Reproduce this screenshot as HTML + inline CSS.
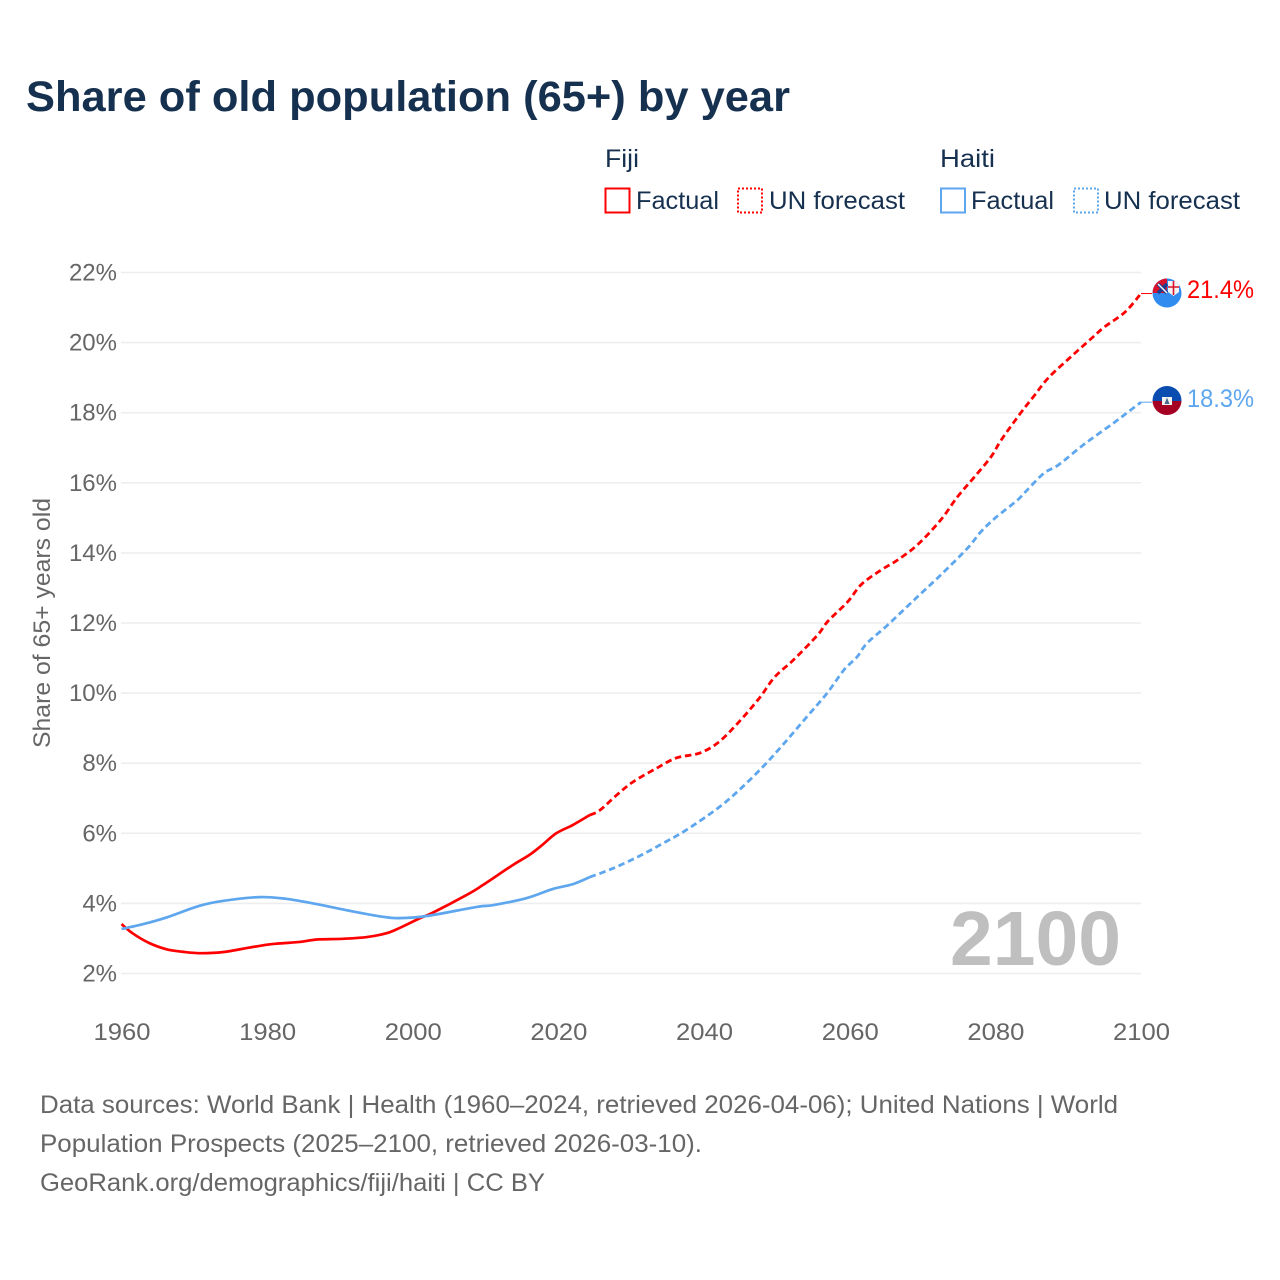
<!DOCTYPE html>
<html lang="en">
<head>
<meta charset="utf-8">
<title>Share of old population (65+) by year</title>
<style>
  html, body { margin: 0; padding: 0; background: #fff; }
  svg { display: block; font-family: "Liberation Sans", sans-serif; }
</style>
</head>
<body>
<svg id="chart" xmlns="http://www.w3.org/2000/svg" width="1280" height="1280" viewBox="0 0 1280 1280">
  <rect width="1280" height="1280" fill="#ffffff"/>
  <text x="26" y="111" font-size="43" font-weight="700" fill="#16304f" textLength="764" lengthAdjust="spacingAndGlyphs">Share of old population (65+) by year</text>

  <g font-size="25" fill="#16304f">
    <text x="605" y="167" textLength="34" lengthAdjust="spacingAndGlyphs">Fiji</text>
    <rect x="605.5" y="188.5" width="24" height="24" fill="none" stroke="#ff0000" stroke-width="2"/>
    <text x="636" y="209" textLength="83" lengthAdjust="spacingAndGlyphs">Factual</text>
    <rect x="738" y="188.5" width="24" height="24" fill="none" stroke="#ff0000" stroke-width="2" stroke-dasharray="2 2"/>
    <text x="769" y="209" textLength="136" lengthAdjust="spacingAndGlyphs">UN forecast</text>
    <text x="940" y="167" textLength="55" lengthAdjust="spacingAndGlyphs">Haiti</text>
    <rect x="941" y="188.5" width="24" height="24" fill="none" stroke="#5ea6ee" stroke-width="2"/>
    <text x="971" y="209" textLength="83" lengthAdjust="spacingAndGlyphs">Factual</text>
    <rect x="1074" y="188.5" width="24" height="24" fill="none" stroke="#5ea6ee" stroke-width="2" stroke-dasharray="2 2"/>
    <text x="1104" y="209" textLength="136" lengthAdjust="spacingAndGlyphs">UN forecast</text>
  </g>

  <g id="grid"></g>
  <g id="yticks" font-size="24" fill="#666666" text-anchor="end"></g>
  <g id="xticks" font-size="24" fill="#666666"></g>
  <text transform="translate(50 623) rotate(-90)" font-size="24" fill="#666666" text-anchor="middle" textLength="250" lengthAdjust="spacingAndGlyphs">Share of 65+ years old</text>

  <text x="950" y="965" font-size="77" font-weight="700" fill="#bfbfbf" textLength="171" lengthAdjust="spacingAndGlyphs">2100</text>

  <g id="series"></g>

  <defs>
    <clipPath id="clip-fiji"><circle cx="1167" cy="293" r="14.5"/></clipPath>
    <clipPath id="clip-haiti"><circle cx="1167" cy="400.5" r="14.5"/></clipPath>
  </defs>
  <g clip-path="url(#clip-fiji)">
    <rect x="1152" y="278" width="30" height="30" fill="#318cf0"/>
    <rect x="1152" y="278" width="15" height="15" fill="#d8142c"/>
    <path d="M1158 284L1167 293M1167 284L1158 293" stroke="#1a3f90" stroke-width="3.5"/>
    <path d="M1158 284L1167 293" stroke="#ffffff" stroke-width="1.4"/>
    <path d="M1168 281H1179V292L1173.5 296L1168 292Z" fill="#f4f4f4"/>
    <path d="M1173.5 281V295M1168 287H1179" stroke="#d8142c" stroke-width="1.6"/>
  </g>
  <g clip-path="url(#clip-haiti)">
    <rect x="1152" y="386" width="30" height="15" fill="#0a4cb0"/>
    <rect x="1152" y="401" width="30" height="15" fill="#a50024"/>
    <rect x="1162" y="397" width="10" height="8" fill="#f2f2f2"/>
    <path d="M1167 397.5L1169.5 404H1164.5Z" fill="#486a8a"/>
  </g>
  <text x="1187" y="298" font-size="25" fill="#ff0000" textLength="67" lengthAdjust="spacingAndGlyphs">21.4%</text>
  <text x="1187" y="407" font-size="25" fill="#5ea6ee" textLength="67" lengthAdjust="spacingAndGlyphs">18.3%</text>

  <g font-size="25" fill="#666666">
    <text x="40" y="1113" textLength="1078" lengthAdjust="spacingAndGlyphs">Data sources: World Bank | Health (1960–2024, retrieved 2026-04-06); United Nations | World</text>
    <text x="40" y="1152" textLength="662" lengthAdjust="spacingAndGlyphs">Population Prospects (2025–2100, retrieved 2026-03-10).</text>
    <text x="40" y="1191" textLength="505" lengthAdjust="spacingAndGlyphs">GeoRank.org/demographics/fiji/haiti | CC BY</text>
  </g>
</svg>

<script>
const yTicks = [2, 4, 6, 8, 10, 12, 14, 16, 18, 20, 22];
const xTicks = [1960, 1980, 2000, 2020, 2040, 2060, 2080, 2100];

const fijiFactualYears = [1960, 1961.5, 1963.8, 1966.2, 1968.4, 1970.7, 1973.9, 1977.6, 1980.7, 1984.5, 1986.8, 1990.4, 1993.7, 1996.4, 1998.2, 2001, 2002.7, 2007.4, 2009.6, 2013.7, 2016, 2017.8, 2019.7, 2022, 2024.3];
const fijiFactual = [3.41, 3.15, 2.87, 2.69, 2.62, 2.58, 2.61, 2.74, 2.84, 2.9, 2.97, 2.99, 3.04, 3.15, 3.3, 3.58, 3.73, 4.24, 4.52, 5.09, 5.38, 5.67, 6.0, 6.24, 6.52];
const fijiForecastYears = [2024.3, 2025.7, 2028, 2030.2, 2033.5, 2036.2, 2039.4, 2042, 2044.8, 2047.6, 2049.7, 2052.3, 2055.6, 2057, 2059.7, 2061.6, 2064.3, 2066.6, 2069.4, 2072.5, 2074.8, 2077.1, 2079.4, 2080.8, 2083.5, 2085.4, 2087.3, 2090.4, 2093.2, 2095, 2097.8, 2100];
const fijiForecast = [6.52, 6.66, 7.09, 7.46, 7.86, 8.15, 8.29, 8.6, 9.18, 9.86, 10.46, 10.95, 11.66, 12.05, 12.6, 13.1, 13.51, 13.8, 14.25, 14.94, 15.6, 16.16, 16.74, 17.22, 18.0, 18.5, 19.0, 19.6, 20.12, 20.45, 20.87, 21.4];

const haitiFactualYears = [1960, 1963, 1966.2, 1970.7, 1973.9, 1979, 1982.6, 1986.8, 1991.3, 1995.8, 1998.2, 2001.9, 2008.8, 2011, 2015.6, 2019.2, 2022, 2024.3];
const haitiFactual = [3.27, 3.41, 3.6, 3.93, 4.07, 4.18, 4.13, 3.98, 3.79, 3.62, 3.58, 3.64, 3.9, 3.95, 4.15, 4.41, 4.55, 4.75];
const haitiForecastYears = [2024.3, 2027.5, 2031.2, 2034.4, 2037.6, 2042.1, 2045, 2048, 2050.8, 2054.1, 2056.9, 2059.2, 2061, 2062.4, 2065.2, 2068.8, 2072.5, 2076.2, 2078, 2080, 2083, 2084.4, 2086.7, 2088.6, 2091.7, 2093.5, 2096.2, 2098.1, 2100];
const haitiForecast = [4.75, 5.0, 5.36, 5.72, 6.1, 6.75, 7.27, 7.88, 8.52, 9.32, 10.0, 10.66, 11.03, 11.43, 11.94, 12.65, 13.37, 14.14, 14.6, 15.0, 15.5, 15.8, 16.28, 16.5, 17.02, 17.3, 17.7, 18.0, 18.3];

const FIJI_COLOR = '#ff0000';
const HAITI_COLOR = '#5ea6ee';
const SVG_NS = 'http://www.w3.org/2000/svg';

function xScale(year) { return 121.5 + (year - 1960) * (1141 - 121.5) / 140; }
function yScale(pct) { return 973.5 - (pct - 2) * (973.5 - 272.5) / 20; }

function smoothPath(years, values) {
  const p = years.map((yr, i) => [xScale(yr), yScale(values[i])]);
  let d = 'M' + p[0][0].toFixed(2) + ' ' + p[0][1].toFixed(2);
  for (let i = 0; i < p.length - 1; i++) {
    const a = p[Math.max(i - 1, 0)], b = p[i], c = p[i + 1], e = p[Math.min(i + 2, p.length - 1)];
    const c1x = b[0] + (c[0] - a[0]) / 6, c1y = b[1] + (c[1] - a[1]) / 6;
    const c2x = c[0] - (e[0] - b[0]) / 6, c2y = c[1] - (e[1] - b[1]) / 6;
    d += 'C' + c1x.toFixed(2) + ' ' + c1y.toFixed(2) + ' ' + c2x.toFixed(2) + ' ' + c2y.toFixed(2) + ' ' + c[0].toFixed(2) + ' ' + c[1].toFixed(2);
  }
  return d;
}

const gridGroup = document.getElementById('grid');
const yTickGroup = document.getElementById('yticks');
const xTickGroup = document.getElementById('xticks');
const seriesGroup = document.getElementById('series');

yTicks.forEach(function (t) {
  const line = document.createElementNS(SVG_NS, 'line');
  
  
  line.setAttribute('x1', 121);
  line.setAttribute('x2', 1141);
  line.setAttribute('y1', yScale(t));
  line.setAttribute('y2', yScale(t));
  line.setAttribute('stroke', '#eeeeee');
  line.setAttribute('stroke-width', 1.6);
  gridGroup.appendChild(line);

  const label = document.createElementNS(SVG_NS, 'text');
  
  
  label.setAttribute('x', 117);
  label.setAttribute('y', yScale(t) + 8);
  label.textContent = t + '%';
  yTickGroup.appendChild(label);
});

xTicks.forEach(function (t) {
  const label = document.createElementNS(SVG_NS, 'text');
  
  
  label.setAttribute('x', xScale(t) + 0.5 - 28.5);
  label.setAttribute('y', 1040);
  label.setAttribute('textLength', 57);
  label.setAttribute('lengthAdjust', 'spacingAndGlyphs');
  label.textContent = t;
  xTickGroup.appendChild(label);
});

function drawLine(years, values, color, dashed, seriesName) {
  const path = document.createElementNS(SVG_NS, 'path');
  
  
  path.setAttribute('d', smoothPath(years, values));
  path.setAttribute('fill', 'none');
  path.setAttribute('stroke', color);
  path.setAttribute('stroke-width', dashed ? 2.8 : 2.7);
  path.setAttribute('stroke-linejoin', 'round');
  if (dashed) path.setAttribute('stroke-dasharray', '6.5 3.8');
  seriesGroup.appendChild(path);
}

function drawConnector(lastValue, color, connectorName) {
  const line = document.createElementNS(SVG_NS, 'line');
  
  
  line.setAttribute('x1', xScale(2100));
  line.setAttribute('x2', 1152);
  line.setAttribute('y1', yScale(lastValue));
  line.setAttribute('y2', yScale(lastValue));
  line.setAttribute('stroke', color);
  line.setAttribute('stroke-width', 1);
  seriesGroup.appendChild(line);
}

drawLine(fijiForecastYears, fijiForecast, FIJI_COLOR, true, 'fiji-forecast-line');
drawLine(haitiForecastYears, haitiForecast, HAITI_COLOR, true, 'haiti-forecast-line');
drawLine(fijiFactualYears, fijiFactual, FIJI_COLOR, false, 'fiji-factual-line');
drawLine(haitiFactualYears, haitiFactual, HAITI_COLOR, false, 'haiti-factual-line');
drawConnector(fijiForecast[fijiForecast.length - 1], FIJI_COLOR, 'fiji-end-connector');
drawConnector(haitiForecast[haitiForecast.length - 1], HAITI_COLOR, 'haiti-end-connector');
</script>
</body>
</html>
